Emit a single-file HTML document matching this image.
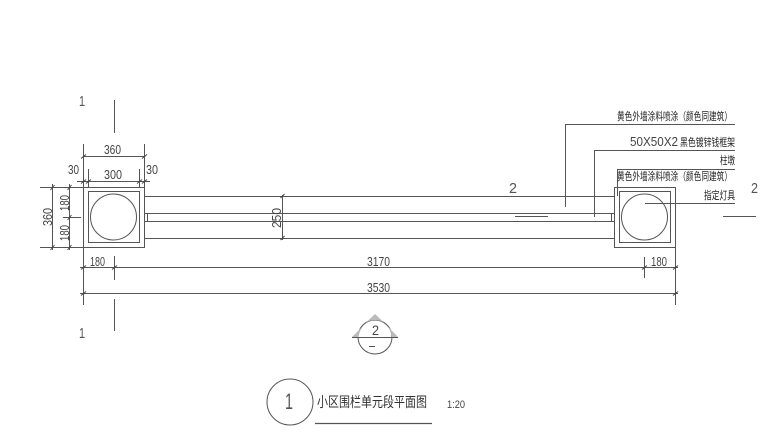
<!DOCTYPE html>
<html>
<head>
<meta charset="utf-8">
<style>
html,body{margin:0;padding:0;background:#fff;}
svg{display:block;}
text{font-family:"Liberation Sans","Noto Sans CJK SC",sans-serif;fill:#333;}
.c{font-family:"Noto Sans CJK SC","WenQuanYi Zen Hei",sans-serif;font-size:11px;fill:#222;}
.d{font-size:13px;fill:#444;}
.s{font-size:15px;fill:#555;}
</style>
</head>
<body>
<svg width="780" height="442" viewBox="0 0 780 442" xmlns="http://www.w3.org/2000/svg">
<g fill="none" stroke="#555" stroke-width="1">
<!-- posts -->
<rect x="83.500" y="187.500" width="61" height="60"/>
<rect x="88.500" y="191.500" width="51" height="51"/>
<circle cx="113.500" cy="217" r="23"/>
<rect x="614.500" y="187.500" width="61" height="60"/>
<rect x="619.500" y="191.500" width="51" height="51"/>
<circle cx="644.500" cy="217" r="23"/>
<!-- rails -->
<path d="M144.500 196.500H614.500M144.500 213.500H614.500M144.500 221.500H614.500M144.500 238.500H614.500"/>
<path d="M147.500 213.500V221.500M611.500 213.500V221.500"/>
<!-- left dims -->
<path d="M83.500 144V305M144.500 144V187"/>
<path d="M83.500 156.500H144.500M77 181.500H150M88.500 169V187M139.500 169V187"/>
<path d="M40 187.500H83M40 247.500H83M52.500 184V250M69.500 184V250M63 217.500H81"/>
<!-- bottom dims -->
<path d="M80 267.500H678M80 293.500H678M114.500 256V280M644.500 257V278M675.500 187V305"/>
<!-- 250 dim -->
<path d="M282.500 195V240"/>
<!-- section marks -->
<path d="M114.500 100V133M114.500 299V331M515 216.500H548M723 216.500H756"/>
<!-- leaders -->
<path d="M565.500 207V124.500H735M594.500 217V150.500H735M617.500 196V169.500H735M645 203.500H735"/>
<!-- bottom -->
<circle cx="375" cy="337" r="17"/>
<path d="M352 337.500H398"/>
<circle cx="290" cy="402" r="23"/>
<path d="M315 423.500H432" stroke-width="1.200"/>
<path d="M369 346.500H375"/>
</g>
<g stroke="#444" stroke-width="1">
<path d="M81 158.500L86 154.500M142 158.500L147 154.500M86 183.500L91 179.500M137 183.500L142 179.500M81 183.500L86 179.500M142 183.500L147 179.500"/>
<path d="M50.500 190L54.500 185M50.500 250L54.500 245M67.500 190L71.500 185M67.500 220L71.500 215M67.500 250L71.500 245"/>
<path d="M81 269.500L86 265.500M112 269.500L117 265.500M642 269.500L647 265.500M673 269.500L678 265.500M81 295.500L86 291.500M673 295.500L678 291.500"/>
<path d="M280.500 198L284.500 194M280.500 240L284.500 236"/>
</g>
<path d="M375 314L352 337H358.500C359.500 331 362 327 365 324L375 314Z" fill="#bbb"/>
<path d="M375 314L365 323.500C368 321 371 320 375 320C379 320 382 321 385 323.500Z" fill="#bbb"/>
<path d="M385 323.500L398 337H392C391.500 331 388 326 385 323.500Z" fill="#bbb"/>
<!-- dims text -->
<text class="d" x="104" y="154" textLength="17" lengthAdjust="spacingAndGlyphs">360</text>
<text class="d" x="104" y="179" textLength="18" lengthAdjust="spacingAndGlyphs">300</text>
<text class="d" x="68" y="174" textLength="11" lengthAdjust="spacingAndGlyphs">30</text>
<text class="d" x="146" y="174" textLength="12" lengthAdjust="spacingAndGlyphs">30</text>
<text class="d" transform="translate(52 226) rotate(-90)" textLength="18" lengthAdjust="spacingAndGlyphs">360</text>
<text class="d" transform="translate(69 211) rotate(-90)" textLength="16" lengthAdjust="spacingAndGlyphs">180</text>
<text class="d" transform="translate(69 241) rotate(-90)" textLength="16" lengthAdjust="spacingAndGlyphs">180</text>
<text class="d" x="90" y="266" textLength="15" lengthAdjust="spacingAndGlyphs">180</text>
<text class="d" x="651" y="266" textLength="16" lengthAdjust="spacingAndGlyphs">180</text>
<text class="d" x="367" y="266" textLength="23" lengthAdjust="spacingAndGlyphs">3170</text>
<text class="d" x="367" y="292" textLength="23" lengthAdjust="spacingAndGlyphs">3530</text>
<text class="d" transform="translate(281 228) rotate(-90)" textLength="20" lengthAdjust="spacingAndGlyphs">250</text>
<!-- section labels -->
<text class="s" x="79" y="106" textLength="6" lengthAdjust="spacingAndGlyphs">1</text>
<text class="s" x="79" y="338" textLength="6" lengthAdjust="spacingAndGlyphs">1</text>
<text class="s" x="509" y="193" textLength="8" lengthAdjust="spacingAndGlyphs">2</text>
<text class="s" x="751" y="193" textLength="7" lengthAdjust="spacingAndGlyphs">2</text>
<!-- leader labels -->
<text class="c" x="617" y="120" textLength="115" lengthAdjust="spacingAndGlyphs">黄色外墙涂料喷涂（颜色同建筑）</text>
<text class="d" x="630" y="146" textLength="48" lengthAdjust="spacingAndGlyphs">50X50X2</text>
<text class="c" x="680" y="146" textLength="55" lengthAdjust="spacingAndGlyphs">黑色镀锌钱框架</text>
<text class="c" x="720" y="164" textLength="15" lengthAdjust="spacingAndGlyphs">柱墩</text>
<text class="c" x="617" y="180" textLength="115" lengthAdjust="spacingAndGlyphs">黄色外墙涂料喷涂（颜色同建筑）</text>
<text class="c" x="704" y="199" textLength="31" lengthAdjust="spacingAndGlyphs">指定灯具</text>
<!-- bottom labels -->
<text x="372" y="335" font-size="14" style="fill:#444" textLength="7" lengthAdjust="spacingAndGlyphs">2</text>
<text x="285" y="409" font-size="22" style="fill:#555" textLength="8" lengthAdjust="spacingAndGlyphs">1</text>
<text class="c" x="317" y="407" style="font-size:14px;fill:#333" textLength="110" lengthAdjust="spacingAndGlyphs">小区围栏单元段平面图</text>
<text x="447" y="408" font-size="11" style="fill:#444" textLength="18" lengthAdjust="spacingAndGlyphs">1:20</text>
</svg>
</body>
</html>
